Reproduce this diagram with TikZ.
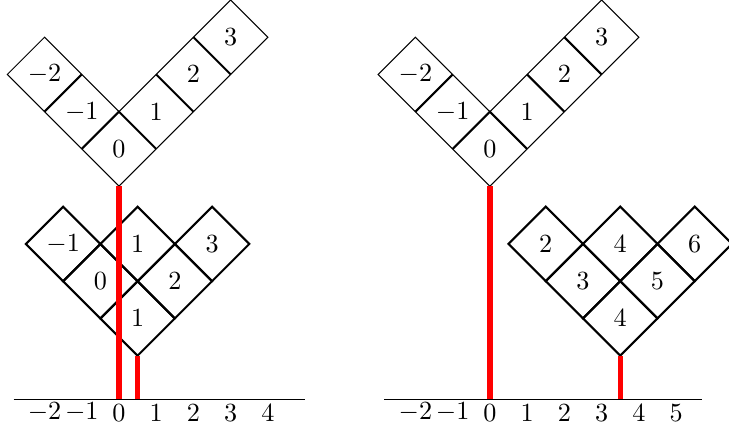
\documentclass[tikz,border=0pt]{standalone}
\usepackage{amsmath,amssymb}
\usepackage{tikz,xcolor}
\usetikzlibrary{calc}

\begin{document}
\begin{tikzpicture}[x=0.5cm,y=0.5cm,
  rim/.style={black,thin},
  seam/.style={black,thick},
  wall/.style={red,line width=2pt},
  axisline/.style={black,thin}]
\useasboundingbox (-3.195,-0.88) rectangle (16.38,10.72);
\clip (-3.195,-0.88) rectangle (16.38,10.72);

% the two V shapes on top
\foreach \s/\t in {0/L,9.96/R}{
  \draw[rim] (\s,5.72) -- (\s-3,8.72) -- (\s-2,9.72) -- (\s,7.72) -- (\s+3,10.72) -- (\s+4,9.72) -- cycle;
  \draw[seam] (\s-2,7.72) -- (\s-1,8.72);
  \draw[seam] (\s-1,6.72) -- (\s,7.72) -- (\s+1,6.72);
  \draw[seam] (\s+1,8.72) -- (\s+2,7.72);
  \draw[seam] (\s+2,9.72) -- (\s+3,8.72);
  \foreach \k/\n in {-2/m2,-1/m1,0/0,1/1,2/2,3/3}
    \node (v\t\n) at (\s+\k,{6.72+abs(\k)}) {$\k$};
  \coordinate (tip\t) at (\s,5.72);
  \coordinate (zero\t) at (\s,0);
}

% partitions
\foreach \x/\l/\n in {-1.5/3/-1, 0.5/3/1, 2.5/3/3, -0.5/2/0, 1.5/2/2, 0.5/1/1}{
  \draw[seam] (\x-1,1.17+\l) -- (\x,2.17+\l) -- (\x+1,1.17+\l) -- (\x,0.17+\l) -- cycle;
}
\foreach \x/\l/\n in {11.46/3/2, 13.46/3/4, 15.46/3/6, 12.46/2/3, 14.46/2/5, 13.46/1/4}{
  \draw[seam] (\x-1,1.17+\l) -- (\x,2.17+\l) -- (\x+1,1.17+\l) -- (\x,0.17+\l) -- cycle;
}
\coordinate (pL) at (0.5,1.17);
\coordinate (pR) at (13.46,1.17);
\coordinate (fL) at (0.5,0);
\coordinate (fR) at (13.46,0);

% axes
\draw[axisline] (-2.83,0) -- (5,0);
\draw[axisline] (7.12,0) -- (15.66,0);
\foreach \k in {-2,...,4} \node (aL\k) at (\k,-0.36) {$\k$};
\foreach \k in {-2,...,5} \node (aR\k) at (9.96+\k,-0.36) {$\k$};

% red walls
\draw[wall] (zeroL) -- (tipL);
\draw[wall] (fL) -- (pL);
\draw[wall] (zeroR) -- (tipR);
\draw[wall] (fR) -- (pR);

% cell labels
\foreach \x/\l/\n [count=\i] in {-1.5/3/-1, 0.5/3/1, 2.5/3/3, -0.5/2/0, 1.5/2/2, 0.5/1/1}
  \node (cL\i) at (\x,1.17+\l) {$\n$};
\foreach \x/\l/\n [count=\i] in {11.46/3/2, 13.46/3/4, 15.46/3/6, 12.46/2/3, 14.46/2/5, 13.46/1/4}
  \node (cR\i) at (\x,1.17+\l) {$\n$};
\end{tikzpicture}
\end{document}
